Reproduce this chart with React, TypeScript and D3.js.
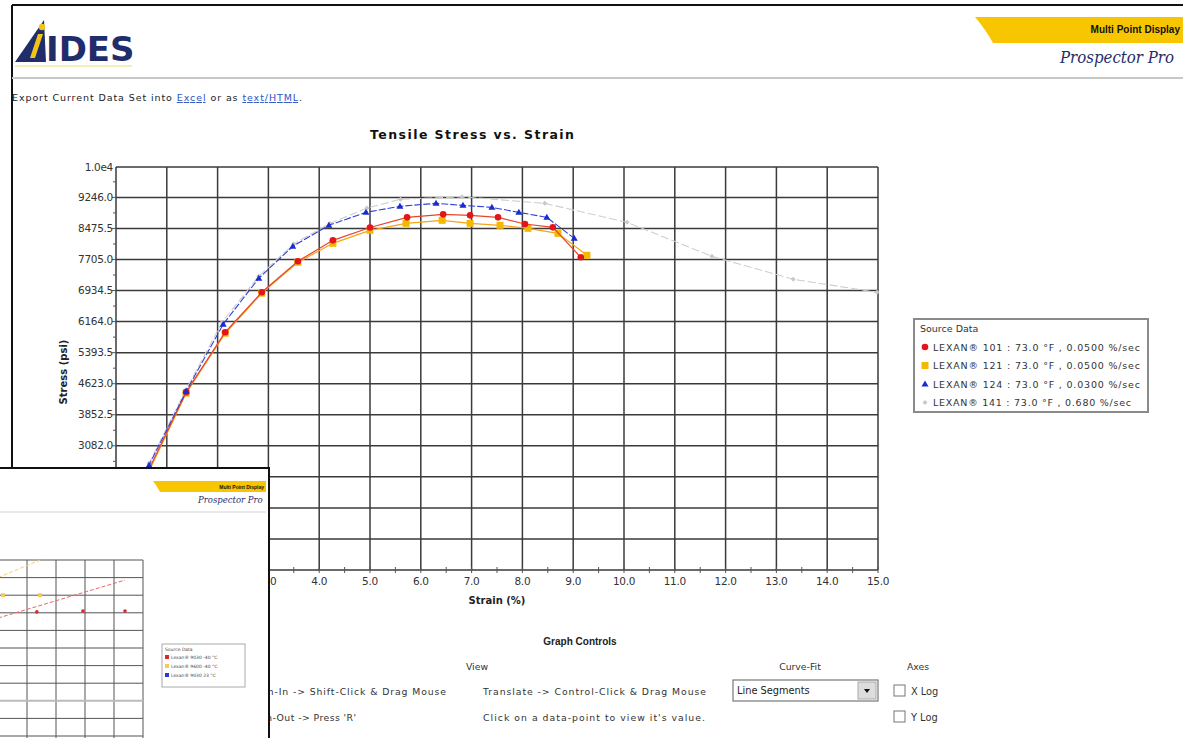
import * as d3 from 'd3';

// strain (%) , stress (psi)
const red101: [number, number][] = [
  [0, 0], [0.65, 2500], [1.38, 4413], [2.15, 5900], [2.87, 6892], [3.58, 7660], [4.27, 8180],
  [5.0, 8500], [5.73, 8751], [6.44, 8825], [6.97, 8800], [7.52, 8751], [8.05, 8585],
  [8.6, 8503], [9.15, 7759],
];
const yellow121: [number, number][] = [
  [0, 0], [0.65, 2450], [1.38, 4388], [2.15, 5875], [2.87, 6870], [3.58, 7635], [4.27, 8106],
  [5.0, 8429], [5.71, 8602], [6.42, 8677], [6.97, 8602], [7.56, 8553], [8.11, 8478],
  [8.7, 8354], [9.27, 7809],
];
const blue124: [number, number][] = [
  [0, 0], [0.65, 2600], [1.38, 4437], [2.11, 6098], [2.81, 7239], [3.48, 8032], [4.19, 8553],
  [4.92, 8875], [5.59, 9024], [6.3, 9098], [6.83, 9048], [7.4, 8999], [7.93, 8875],
  [8.48, 8751], [9.02, 8230],
];
const gray141: [number, number][] = [
  [0, 0], [0.65, 2650], [1.38, 4480], [2.09, 6150], [2.81, 7290], [3.5, 8090], [4.21, 8600],
  [4.94, 8980], [5.6, 9200], [6.81, 9260], [8.44, 9098], [10.06, 8627], [11.73, 7784],
  [13.33, 7214], [14.98, 6892],
];

const legendLabels = [
  'LEXAN® 101 : 73.0 °F , 0.0500 %/sec',
  'LEXAN® 121 : 73.0 °F , 0.0500 %/sec',
  'LEXAN® 124 : 73.0 °F , 0.0300 %/sec',
  'LEXAN® 141 : 73.0 °F , 0.680 %/sec',
];
const legendWidths = [207, 207, 207, 198];

const xTicks = d3.range(0, 16);
const yStep = 770.5;
const yTicks = d3.range(0, 13).map((i) => i * yStep);

// small screenshot pasted over the bottom-left corner
const insetRed: [number, number][] = [[1.34, 7.05], [2.93, 7.1], [4.38, 7.1]];
const insetRedFit: [number, number][] = [[0, 6.7], [4.38, 8.86]];
const insetYellow: [number, number][] = [[0.17, 8.0], [1.45, 8.0]];
const insetYellowFit: [number, number][] = [[0, 9.0], [1.45, 10.0]];
const insetLegend = ['Lexan® 9030 -40 °C', 'Lexan® 9600 -40 °C', 'Lexan® 9030 23 °C'];

const FONT = '"DejaVu Sans", Verdana, sans-serif';
const ARIAL = 'Arial, "Liberation Sans", sans-serif';

const x = d3.scaleLinear().domain([0, 15]).range([116, 878]);
const y = d3.scaleLinear().domain([0, 10000]).range([570, 167]);

function Marker({ kind, cx, cy }: { kind: string; cx: number; cy: number }) {
  if (kind === 'circle') return <circle cx={cx} cy={cy} r={3.3} fill="#e3141a" />;
  if (kind === 'square') return <rect x={cx - 3.5} y={cy - 3.5} width={7} height={7} fill="#f5b800" />;
  if (kind === 'triangle')
    return <path d={`M${cx},${cy - 3.5}L${cx + 3.5},${cy + 2.5}L${cx - 3.5},${cy + 2.5}Z`} fill="#1a2bd0" />;
  return <path d={`M${cx},${cy - 2.5}L${cx + 2.5},${cy}L${cx},${cy + 2.5}L${cx - 2.5},${cy}Z`} fill="#c8c8c8" />;
}

const series = [
  { data: gray141, color: '#cfcfcf', dash: '8,3', marker: 'diamond', width: 1.1 },
  { data: yellow121, color: '#f4a41a', dash: '', marker: 'square', width: 1.2 },
  { data: red101, color: '#e5462c', dash: '', marker: 'circle', width: 1.2 },
  { data: blue124, color: '#3040d8', dash: '7,2', marker: 'triangle', width: 1.1 },
];
const legendMarkers = ['circle', 'square', 'triangle', 'diamond'];

export default function App() {
  const line = d3
    .line<[number, number]>()
    .x((d) => x(d[0]))
    .y((d) => y(d[1]));

  const ix = d3.scaleLinear().domain([0, 5]).range([-2, 143]);
  const iy = d3.scaleLinear().domain([0, 10]).range([736, 560]);
  const iline = d3
    .line<[number, number]>()
    .x((d) => ix(d[0]))
    .y((d) => iy(d[1]));

  return (
    <svg
      width={1183}
      height={738}
      style={{ position: 'absolute', left: 0, top: 0, background: '#fff' }}
      fontFamily={FONT}
    >
      {/* page frame */}
      <line x1={12} y1={5} x2={1183} y2={5} stroke="#111" strokeWidth={2} />
      <line x1={12} y1={5} x2={12} y2={738} stroke="#111" strokeWidth={2} />

      {/* IDES logo */}
      <path d="M15,62 L44,20 L46,62 Z" fill="#1f2d6b" />
      <path d="M30,58 L38,34 L43,34 L35,58 Z" fill="#f2c318" />
      <circle cx={42} cy={27} r={3.2} fill="#f2c318" />
      <text x={46} y={61} fontSize={34} fontWeight="bold" fill="#1f2d6b">
        IDES
      </text>
      <line x1={15} y1={66} x2={132} y2={66} stroke="#f5e6a8" strokeWidth={1.5} />

      {/* top right banner */}
      <path d="M975,17 L1183,17 L1183,43 L993,43 Q986,30 975,17 Z" fill="#f7c600" />
      <text x={1180} y={33} fontSize={10} fontWeight="bold" textAnchor="end" fill="#111" fontFamily={ARIAL}>
        Multi Point Display
      </text>
      <text
        x={1060}
        y={63}
        fontSize={16}
        fontStyle="italic"
        fill="#1f2d6b"
        fontFamily='"DejaVu Serif", serif'
        textLength={114}
        lengthAdjust="spacingAndGlyphs"
      >
        Prospector Pro
      </text>
      <line x1={12} y1={78} x2={1183} y2={78} stroke="#c8c8c8" strokeWidth={2} />

      <text x={12} y={101} fontSize={9.5} fill="#222" textLength={290} lengthAdjust="spacing">
        Export Current Data Set into{' '}
        <tspan fill="#2a55c8" textDecoration="underline">Excel</tspan> or as{' '}
        <tspan fill="#2a55c8" textDecoration="underline">text/HTML</tspan>.
      </text>

      {/* chart title */}
      <text x={370} y={139} fontSize={12.5} fontWeight="bold" fill="#111" textLength={204} lengthAdjust="spacing">
        Tensile Stress vs. Strain
      </text>

      {/* grid */}
      {xTicks.map((t) => (
        <line key={'gx' + t} x1={x(t)} x2={x(t)} y1={y(10000)} y2={y(0)} stroke="#3a3a3a" strokeWidth={1.5} />
      ))}
      {yTicks.map((t) => (
        <line key={'gy' + t} x1={x(0)} x2={x(15)} y1={y(t)} y2={y(t)} stroke="#3a3a3a" strokeWidth={1.5} />
      ))}
      <line x1={x(0)} x2={x(15)} y1={y(10000)} y2={y(10000)} stroke="#3a3a3a" strokeWidth={1.5} />

      {/* y axis ticks & labels */}
      {d3.range(0, 26).map((i) => (
        <line key={'ym' + i} x1={x(0) - (i % 2 ? 3 : 4)} x2={x(0)} y1={y((i * yStep) / 2)} y2={y((i * yStep) / 2)} stroke="#555" />
      ))}
      {yTicks.map((t) => (
        <text key={'yl' + t} x={113} y={y(t) + 3.5} fontSize={10.5} textAnchor="end" fill="#333" letterSpacing={-0.3}>
          {t.toFixed(1)}
        </text>
      ))}
      <text x={113} y={y(10000) + 3.5} fontSize={10.5} textAnchor="end" fill="#333" letterSpacing={-0.3}>
        1.0e4
      </text>

      {/* x axis ticks & labels */}
      {d3.range(0, 31).map((i) => (
        <line key={'xm' + i} x1={x(i / 2)} x2={x(i / 2)} y1={y(0) - 3} y2={y(0) + 3} stroke="#555" />
      ))}
      {xTicks.map((t) => (
        <text key={'xl' + t} x={x(t)} y={585} fontSize={10.5} textAnchor="middle" fill="#333" letterSpacing={-0.3}>
          {t.toFixed(1)}
        </text>
      ))}

      <text x={497} y={604} fontSize={10} fontWeight="bold" textAnchor="middle" fill="#222">
        Strain (%)
      </text>
      <text
        transform="translate(67,372) rotate(-90)"
        fontSize={10}
        fontWeight="bold"
        textAnchor="middle"
        fill="#222"
      >
        Stress (psi)
      </text>

      {/* series */}
      {series.map((s, i) => (
        <g key={'s' + i}>
          <path d={line(s.data) ?? ''} fill="none" stroke={s.color} strokeWidth={s.width} strokeDasharray={s.dash} />
          {s.data.slice(1).map((d, j) => (
            <Marker key={j} kind={s.marker} cx={x(d[0])} cy={y(d[1])} />
          ))}
        </g>
      ))}

      {/* legend */}
      <rect x={914} y={319} width={234} height={93} fill="#fff" stroke="#8a8a8a" strokeWidth={2} />
      <text x={920} y={332} fontSize={9.5} fill="#333">
        Source Data
      </text>
      {legendLabels.map((l, i) => (
        <g key={'lg' + i}>
          <Marker kind={legendMarkers[i]} cx={925} cy={347 + i * 18.5} />
          <text x={933} y={350.5 + i * 18.5} fontSize={9.5} fill="#333" textLength={legendWidths[i]} lengthAdjust="spacing">
            {l}
          </text>
        </g>
      ))}

      {/* graph controls */}
      <text x={580} y={645} fontSize={10} fontWeight="bold" textAnchor="middle" fill="#222" fontFamily={ARIAL}>
        Graph Controls
      </text>
      <text x={477} y={670} fontSize={9.3} textAnchor="middle" fill="#333">View</text>
      <text x={800} y={670} fontSize={9.3} textAnchor="middle" fill="#333">Curve-Fit</text>
      <text x={918} y={670} fontSize={9.3} textAnchor="middle" fill="#333">Axes</text>
      <text x={244} y={695} fontSize={9.3} fill="#333" textLength={202} lengthAdjust="spacing">
        Zoom-In -&gt; Shift-Click &amp; Drag Mouse
      </text>
      <text x={244} y={721} fontSize={9.3} fill="#333" textLength={112} lengthAdjust="spacing">
        Zoom-Out -&gt; Press 'R'
      </text>
      <text x={483} y={695} fontSize={9.3} fill="#333" textLength={223} lengthAdjust="spacing">
        Translate -&gt; Control-Click &amp; Drag Mouse
      </text>
      <text x={483} y={721} fontSize={9.3} fill="#333" textLength={222} lengthAdjust="spacing">
        Click on a data-point to view it's value.
      </text>
      <rect x={733} y={680} width={145} height={21} fill="#fff" stroke="#777" strokeWidth={1.2} />
      <text x={737} y={694} fontSize={9.8} fill="#222">Line Segments</text>
      <rect x={858} y={682} width={18} height={17} fill="#ddd" stroke="#aaa" />
      <path d="M864,689 L870,689 L867,693 Z" fill="#111" />
      <rect x={894} y={685} width={11} height={11} fill="#fff" stroke="#777" />
      <text x={911} y={695} fontSize={9.8} fill="#333">X Log</text>
      <rect x={894} y={711} width={11} height={11} fill="#fff" stroke="#777" />
      <text x={911} y={721} fontSize={9.8} fill="#333">Y Log</text>

      {/* inset screenshot */}
      <g>
        <rect x={0} y={468} width={269} height={270} fill="#fff" />
        <defs>
          <clipPath id="insetClip">
            <rect x={0} y={468} width={269} height={270} />
          </clipPath>
        </defs>
        <g clipPath="url(#insetClip)">
          <path d="M153,481 L266,481 L266,492 L160,492 Q157,486 153,481 Z" fill="#f7c600" />
          <text x={264} y={489} fontSize={5} fontWeight="bold" textAnchor="end" fill="#111" fontFamily={ARIAL}>Multi Point Display</text>
          <text x={198} y={503} fontSize={8.5} fontStyle="italic" fill="#1f2d6b" fontFamily='"DejaVu Serif", serif'>
            Prospector Pro
          </text>
          <line x1={0} y1={512} x2={266} y2={512} stroke="#e2e2e2" strokeWidth={1.5} />
          {d3.range(0, 6).map((t) => (
            <line key={'ix' + t} x1={ix(t)} x2={ix(t)} y1={iy(10)} y2={738} stroke="#555" strokeWidth={1} />
          ))}
          {d3.range(0, 11).map((t) => (
            <line key={'iy' + t} x1={0} x2={ix(5)} y1={iy(t)} y2={iy(t)} stroke={t === 2 ? '#bbb' : '#555'} strokeWidth={t === 2 ? 2 : 1} />
          ))}
          <path d={iline(insetRedFit) ?? ''} fill="none" stroke="#e46a6a" strokeWidth={1} strokeDasharray="4,2" />
          <path d={iline(insetYellowFit) ?? ''} fill="none" stroke="#f2cf6a" strokeWidth={1} strokeDasharray="4,2" />
          {insetRed.map((d, i) => (
            <circle key={'ir' + i} cx={ix(d[0])} cy={iy(d[1])} r={1.8} fill="#d8282a" />
          ))}
          {insetYellow.map((d, i) => (
            <rect key={'iyl' + i} x={ix(d[0]) - 2} y={iy(d[1]) - 2} width={4} height={4} fill="#f4cc50" />
          ))}
          <rect x={162} y={644} width={83} height={43} fill="#fff" stroke="#aaa" strokeWidth={1} />
          <text x={165} y={651} fontSize={4.5} fill="#444">Source Data</text>
          {insetLegend.map((l, i) => (
            <g key={'il' + i}>
              <rect
                x={165}
                y={655 + i * 9}
                width={4}
                height={4}
                fill={i === 0 ? '#d8282a' : i === 1 ? '#f4cc50' : '#2a3ad0'}
              />
              <text x={171} y={659 + i * 9} fontSize={4.5} fill="#444">{l}</text>
            </g>
          ))}
        </g>
        <line x1={0} y1={468} x2={270} y2={468} stroke="#111" strokeWidth={2} />
        <line x1={269} y1={467} x2={269} y2={738} stroke="#111" strokeWidth={2} />
      </g>
    </svg>
  );
}
